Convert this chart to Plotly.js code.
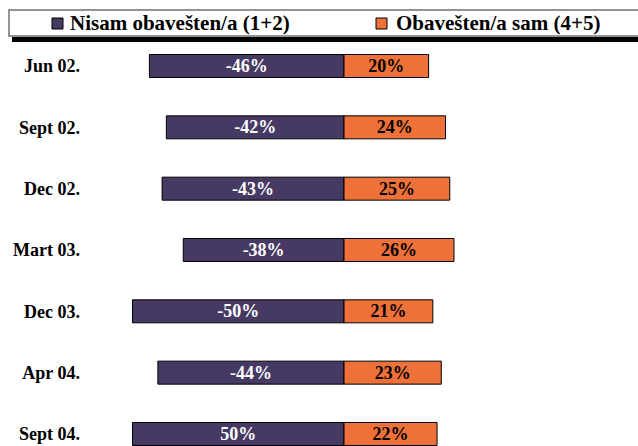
<!DOCTYPE html>
<html>
<head>
<meta charset="utf-8">
<script src="https://cdn.plot.ly/plotly-3.0.1.min.js"></script>
<style>html,body{margin:0;padding:0;background:#fff;}#chart{width:638px;height:446px;}</style>
</head>
<body>
<div id="chart"></div>
<script>
// ---- data ----
const categories = ["Jun 02.", "Sept 02.", "Dec 02.", "Mart 03.", "Dec 03.", "Apr 04.", "Sept 04."];
const seriesNames = ["Nisam obavešten/a (1+2)", "Obavešten/a sam (4+5)"];
const notInformed = [-46, -42, -43, -38, -50, -44, -50];
const notInformedLabels = ["-46%", "-42%", "-43%", "-38%", "-50%", "-44%", "50%"];
const informed = [20, 24, 25, 26, 21, 23, 22];
const informedLabels = ["20%", "24%", "25%", "26%", "21%", "23%", "22%"];

// ---- styling ----
const W = 638, H = 446, L = 86, R = 0, T = 0, B = 0;
const purple = "#463a64", orange = "#ee7139";
const serif = "Liberation Serif, Times New Roman, serif";
const pw = W - L - R, ph = H - T - B;
const px = v => (v - L) / pw;
const py = v => 1 - (v - T) / ph;

const traces = [
  {
    type: "bar", orientation: "h", name: seriesNames[0],
    y: categories, x: notInformed, text: notInformedLabels,
    textposition: "inside", insidetextanchor: "middle", constraintext: "none",
    textfont: {family: serif, size: 18, color: "#ffffff", weight: "bold"},
    marker: {color: purple, line: {color: "#000", width: 1}},
    width: 0.375, hoverinfo: "skip"
  },
  {
    type: "bar", orientation: "h", name: seriesNames[1],
    y: categories, x: informed, text: informedLabels,
    textposition: "inside", insidetextanchor: "middle", constraintext: "none",
    textfont: {family: serif, size: 18, color: "#000000", weight: "bold"},
    marker: {color: orange, line: {color: "#000", width: 1}},
    width: 0.375, hoverinfo: "skip"
  }
];

const shapes = [
  // legend shadow
  {type: "rect", xref: "paper", yref: "paper", x0: px(12), x1: px(660), y0: py(37), y1: py(42),
   fillcolor: "#000", line: {width: 0}},
  // legend box
  {type: "rect", xref: "paper", yref: "paper", x0: px(9), x1: px(660), y0: py(10), y1: py(36),
   fillcolor: "#fff", line: {color: "#707070", width: 1.5}},
  // legend swatches
  {type: "rect", xref: "paper", yref: "paper", x0: px(52), x1: px(63), y0: py(18), y1: py(29),
   fillcolor: purple, line: {color: "#000", width: 1}},
  {type: "rect", xref: "paper", yref: "paper", x0: px(376), x1: px(387), y0: py(18), y1: py(29),
   fillcolor: orange, line: {color: "#000", width: 1}}
];

const annotations = [
  {xref: "paper", yref: "paper", x: px(68), y: py(23.5), xanchor: "left", yanchor: "middle",
   text: seriesNames[0], showarrow: false, font: {family: serif, size: 21, color: "#000", weight: "bold"}},
  {xref: "paper", yref: "paper", x: px(394), y: py(23.5), xanchor: "left", yanchor: "middle",
   text: seriesNames[1], showarrow: false, font: {family: serif, size: 21, color: "#000", weight: "bold"}}
];

const layout = {
  width: W, height: H,
  margin: {l: L, r: R, t: T, b: B, pad: 0},
  paper_bgcolor: "#fff", plot_bgcolor: "#fff",
  barmode: "relative",
  showlegend: false,
  xaxis: {range: [-(344 - L) / 4.23, (W - R - 344) / 4.23], showgrid: false, zeroline: false,
          showticklabels: false, showline: false, ticks: ""},
  yaxis: {type: "category", range: [(H - 66) / 61.33, -66 / 61.33], showgrid: false, zeroline: false,
          showline: false, ticks: "", ticklabelstandoff: 5,
          tickfont: {family: serif, size: 18, color: "#000", weight: "bold"}},
  shapes: shapes,
  annotations: annotations
};

Plotly.newPlot("chart", traces, layout, {staticPlot: true, displayModeBar: false});
</script>
</body>
</html>
